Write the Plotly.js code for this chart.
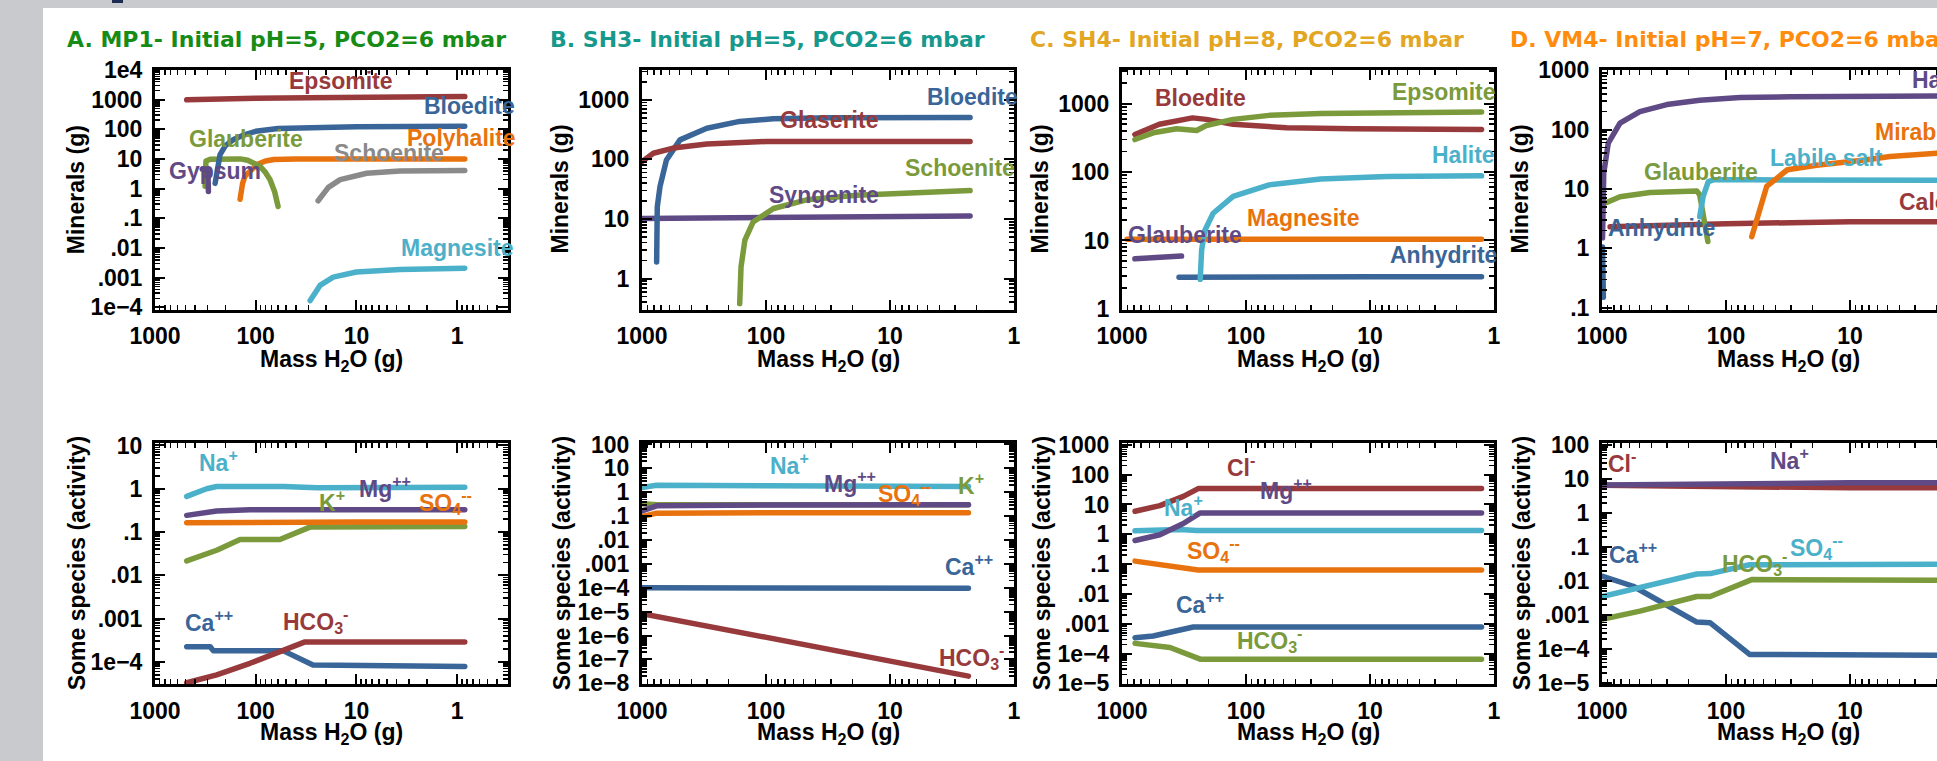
<!DOCTYPE html>
<html>
<head>
<meta charset="utf-8">
<script src="https://cdn.plot.ly/plotly-3.0.1.min.js"></script>
<style>
html,body{margin:0;padding:0;overflow:hidden;background:#fff;}
#chart{width:1990px;height:761px;}
.js-line{stroke-linecap:round;stroke-linejoin:round;}
</style>
</head>
<body>
<div id="chart"></div>
<script>
// ---------------- DATA ----------------
// Tick labels
const decadeVals = [1e-8,1e-7,1e-6,1e-5,1e-4,1e-3,1e-2,1e-1,1,10,100,1000,1e4];
const decadeText = ["1e\u22128","1e\u22127","1e\u22126","1e\u22125","1e\u22124",".001",".01",".1","1","10","100","1000","1e4"];
const massTickVals = [1,10,100,1000];
const massTickText = ["1","10","100","1000"];

const panelTitles = ["A. MP1- Initial pH=5, PCO2=6 mbar","B. SH3- Initial pH=5, PCO2=6 mbar","C. SH4- Initial pH=8, PCO2=6 mbar","D. VM4- Initial pH=7, PCO2=6 mbar"];
const xTitle = "Mass H<sub>2</sub>O (g)";
const yTitleTop = "Minerals (g)";
const yTitleBottom = "Some species (activity)";

// Panel A: MP1 minerals (x = mass H2O g, y = g)
const A_epsomite_m = [484,300,100,30,10,3,0.84];
const A_epsomite_v = [975,1040,1100,1150,1190,1220,1250];
const A_bloedite_m = [253,245,240,226,200,166,130,100,60,30,10,3,0.84];
const A_bloedite_v = [1.5,3,6,14,28,45,65,85,105,115,120,123,125];
const A_glauberite_m = [318,316,312,280,200,143,120,100,91,80,72,65,60];
const A_glauberite_v = [1.2,4,8.5,9.8,10,10,9,7,5.7,3.5,2.0,0.8,0.25];
const A_gypsum_m = [340,320,305,298,296,295];
const A_gypsum_v = [4.5,4.6,4.2,3,1.5,0.8];
const A_polyhalite_m = [143,140,135,128,110,97,80,66,40,10,0.84];
const A_polyhalite_v = [0.44,0.8,1.5,2.6,4.5,6.5,8.5,9.5,9.9,10,10];
const A_schoenite_m = [24,21,19,14.5,10,7.9,3.7,1.5,0.84];
const A_schoenite_v = [0.39,0.7,1.1,2.0,2.8,3.3,3.9,4.05,4.1];
const A_magnesite_m = [28.8,26,23,17,10,3.7,0.84];
const A_magnesite_v = [1.7e-4,3.2e-4,5.5e-4,1.05e-3,1.55e-3,1.9e-3,2.1e-3];

// Panel B: SH3 minerals
const B_bloedite_m = [762,753,716,635,494,300,163,88,30,10,2.26];
const B_bloedite_v = [1.9,16,35,98,213,333,435,480,500,505,505];
const B_glaserite_m = [1000,810,560,300,100,30,2.26];
const B_glaserite_v = [92,127,155,182,200,200,200];
const B_schoenite_m = [163,159,148,127,87,47,18.6,7.3,2.26];
const B_schoenite_v = [0.38,1.57,4.4,8.9,15,21,25,27.6,30];
const B_syngenite_m = [1000,300,100,10,2.26];
const B_syngenite_v = [10.2,10.4,10.7,11,11.2];

// Panel C: SH4 minerals
const C_epsomite_m = [787,560,363,250,209,127,65,25,1.26];
const C_epsomite_v = [299,375,430,405,480,590,675,720,755];
const C_bloedite_m = [787,500,270,209,127,47,13.8,1.26];
const C_bloedite_v = [355,500,620,590,500,445,430,418];
const C_halite_m = [234,228,215,184,127,65,25,7.3,1.26];
const C_halite_v = [2.7,7.2,14,25,44,65,79,86,88];
const C_magnesite_m = [910,100,10,1.26];
const C_magnesite_v = [10.4,10.4,10.4,10.4];
const C_glauberite_m = [787,331];
const C_glauberite_v = [5.4,5.9];
const C_anhydrite_m = [347,100,10,1.26];
const C_anhydrite_v = [2.9,2.95,2.95,2.95];

// Panel D: VM4 minerals
const D_halite_m = [990,985,968,890,716,495,300,163,77,30,10,3,1.26];
const D_halite_v = [1.5,3,18.4,59,128,200,263,310,345,355,362,368,370];
const D_anhydrite_m = [990,984,978,975];
const D_anhydrite_v = [1.05,0.5,0.25,0.15];
const D_glauberite_m = [917,716,410,172,163,150,140];
const D_glauberite_v = [5.9,7.4,8.7,9.2,8,3,1.3];
const D_labile_m = [163,153,139,126,60,10,1.26];
const D_labile_v = [3.4,7.4,13.3,14.2,14.2,14,14];
const D_mirabilite_m = [62,47,32,18.6,7.3,4.75,2.0,1.26];
const D_mirabilite_v = [1.57,11,21,25,31,35,40,42];
const D_calcite_m = [860,300,100,30,10,1.26];
const D_calcite_v = [2.3,2.5,2.6,2.7,2.8,2.8];

// Panel E: MP1 species activity
const E_na_m = [484,307,244,53,24.6,0.84];
const E_na_v = [0.665,1.0,1.13,1.13,1.05,1.08];
const E_mg_m = [484,244,114,0.84];
const E_mg_v = [0.243,0.305,0.327,0.327];
const E_so4_m = [484,100,10,0.84];
const E_so4_v = [0.165,0.17,0.17,0.17];
const E_k_m = [484,244,143,57.5,29,0.84];
const E_k_v = [0.0215,0.038,0.067,0.067,0.13,0.135];
const E_ca_m = [484,283,263,53,27,0.84];
const E_ca_v = [2.24e-4,2.24e-4,1.8e-4,1.8e-4,8.5e-5,7.8e-5];
const E_hco3_m = [484,244,114,53,32.4,0.84];
const E_hco3_v = [3.3e-5,5e-5,9.3e-5,1.88e-4,2.9e-4,2.9e-4];

// Panel F: SH3 species activity
const F_na_m = [1000,762,100,10,2.33];
const F_na_v = [1.57,1.95,1.85,1.78,1.74];
const F_k_m = [1000,762,2.33];
const F_k_v = [0.33,0.3,0.3];
const F_mg_m = [1000,762,100,2.33];
const F_mg_v = [0.166,0.27,0.29,0.30];
const F_so4_m = [1000,762,100,2.33];
const F_so4_v = [0.097,0.133,0.14,0.14];
const F_ca_m = [1000,100,2.33];
const F_ca_v = [1.0e-4,9.7e-5,9.5e-5];
const F_hco3_m = [1000,100,10,2.33];
const F_hco3_v = [8.3e-6,8.3e-7,8.5e-8,2e-8];

// Panel G: SH4 species activity
const G_cl_m = [785,495,320,243,1.26];
const G_cl_v = [5.9,9.1,18.6,34,34];
const G_mg_m = [785,495,320,234,1.26];
const G_mg_v = [0.62,0.96,2.3,5.2,5.2];
const G_na_m = [785,340,250,100,1.26];
const G_na_v = [1.3,1.45,1.35,1.35,1.35];
const G_so4_m = [785,410,243,1.26];
const G_so4_v = [0.126,0.09,0.063,0.063];
const G_ca_m = [785,560,266,1.26];
const G_ca_v = [3.4e-4,3.9e-4,7.8e-4,7.8e-4];
const G_hco3_m = [785,410,234,1.26];
const G_hco3_v = [2.2e-4,1.6e-4,6.5e-5,6.5e-5];

// Panel H: VM4 species activity
const H_cl_m = [1000,300,100,10,1.26];
const H_cl_v = [6.5,6.2,5.8,5.5,5.5];
const H_na_m = [1000,300,100,10,1.26];
const H_na_v = [6.7,7.1,7.5,7.7,7.8];
const H_ca_m = [1000,560,172,134,64.5,1.26];
const H_ca_v = [0.0138,0.007,6.2e-4,5.9e-4,6.9e-5,6.5e-5];
const H_so4_m = [1000,172,134,64.5,1.26];
const H_so4_v = [0.0035,0.016,0.0165,0.030,0.031];
const H_hco3_m = [1000,495,172,134,62,1.26];
const H_hco3_v = [7.4e-4,1.3e-3,3.5e-3,3.5e-3,0.011,0.0105];

// ---------------- STYLE ----------------
const W = 1990, H = 761;
const RED = '#983a3b', BLUE = '#3a6598', ORANGE = '#e8730e', GREEN = '#7a9a3b',
      GREY = '#8a8a8a', PURPLE = '#5f4a86', LBLUE = '#4bb0c9';
const titleColors = ['#168c16','#16998c','#e2a622','#ff8c0c'];
const colPx = [[155,508],[642,1014],[1122,1494],[1602,1974]];
const rowPx = [[69.5,309.5],[443.3,684]];
const LBL_FONT = 'Liberation Sans, Arial, sans-serif';

const panels = [
 {col:0,row:0,xr:[3,-0.505],yr:[-4.07,4.01],ytx:76.7,
  series:[[A_epsomite_m,A_epsomite_v,RED],[A_schoenite_m,A_schoenite_v,GREY],[A_magnesite_m,A_magnesite_v,LBLUE],
          [A_polyhalite_m,A_polyhalite_v,ORANGE],[A_glauberite_m,A_glauberite_v,GREEN],[A_bloedite_m,A_bloedite_v,BLUE],[A_gypsum_m,A_gypsum_v,PURPLE]],
  labels:[["Epsomite",RED,286.7,81],["Bloedite",BLUE,421.7,106],["Glauberite",GREEN,186.7,139],["Polyhalite",ORANGE,405,138],
          ["Schoenite",GREY,331.7,153],["Gypsum",PURPLE,166.7,170.7],["Magnesite",LBLUE,399,248]]},
 {col:1,row:0,xr:[3,0],yr:[-0.52,3.51],ytx:560,
  series:[[B_syngenite_m,B_syngenite_v,PURPLE],[B_schoenite_m,B_schoenite_v,GREEN],[B_bloedite_m,B_bloedite_v,BLUE],[B_glaserite_m,B_glaserite_v,RED]],
  labels:[["Bloedite",BLUE,925,97],["Glaserite",RED,778.3,120],["Schoenite",GREEN,903.3,168],["Syngenite",PURPLE,766.7,195]]},
 {col:2,row:0,xr:[3,0],yr:[-0.01,3.5],ytx:1040,
  series:[[C_anhydrite_m,C_anhydrite_v,BLUE],[C_glauberite_m,C_glauberite_v,PURPLE],[C_magnesite_m,C_magnesite_v,ORANGE],[C_halite_m,C_halite_v,LBLUE],
          [C_bloedite_m,C_bloedite_v,RED],[C_epsomite_m,C_epsomite_v,GREEN]],
  labels:[["Bloedite",RED,1153.3,98.3],["Epsomite",GREEN,1390,91.7],["Halite",LBLUE,1430,155],["Magnesite",ORANGE,1245,218],
          ["Glauberite",PURPLE,1126,235],["Anhydrite",BLUE,1388.3,255]]},
 {col:3,row:0,xr:[3,0],yr:[-1.03,3.01],ytx:1520,
  series:[[D_calcite_m,D_calcite_v,RED],[D_glauberite_m,D_glauberite_v,GREEN],[D_labile_m,D_labile_v,LBLUE],[D_mirabilite_m,D_mirabilite_v,ORANGE],
          [D_anhydrite_m,D_anhydrite_v,BLUE],[D_halite_m,D_halite_v,PURPLE]],
  labels:[["Halite",PURPLE,1910,80],["Mirabilite",ORANGE,1873,131.7],["Labile salt",LBLUE,1768,158],["Glauberite",GREEN,1642,172],
          ["Calcite",RED,1897,201.7],["Anhydrite",BLUE,1606,228]]},
 {col:0,row:1,xr:[3,-0.505],yr:[-4.51,1.05],ytx:76.7,
  series:[[E_k_m,E_k_v,GREEN],[E_so4_m,E_so4_v,ORANGE],[E_mg_m,E_mg_v,PURPLE],[E_na_m,E_na_v,LBLUE],[E_ca_m,E_ca_v,BLUE],[E_hco3_m,E_hco3_v,RED]],
  labels:[["Na<sup>+</sup>",LBLUE,196.7,461],["Mg<sup>++</sup>",PURPLE,356.7,487],["K<sup>+</sup>",GREEN,316.7,501],["SO<sub>4</sub><sup>--</sup>",ORANGE,416.7,502],
          ["Ca<sup>++</sup>",BLUE,182.7,621],["HCO<sub>3</sub><sup>-</sup>",RED,280.7,621]]},
 {col:1,row:1,xr:[3,0],yr:[-8.03,2.05],ytx:561.7,
  series:[[F_k_m,F_k_v,GREEN],[F_so4_m,F_so4_v,ORANGE],[F_mg_m,F_mg_v,PURPLE],[F_na_m,F_na_v,LBLUE],[F_ca_m,F_ca_v,BLUE],[F_hco3_m,F_hco3_v,RED]],
  labels:[["Na<sup>+</sup>",LBLUE,768.3,464],["Mg<sup>++</sup>",PURPLE,821.7,482],["SO<sub>4</sub><sup>--</sup>",ORANGE,876,493],["K<sup>+</sup>",GREEN,956,484],
          ["Ca<sup>++</sup>",BLUE,942.7,565],["HCO<sub>3</sub><sup>-</sup>",RED,936.7,657]]},
 {col:2,row:1,xr:[3,0],yr:[-5.02,3.05],ytx:1041.7,
  series:[[G_na_m,G_na_v,LBLUE],[G_mg_m,G_mg_v,PURPLE],[G_cl_m,G_cl_v,RED],[G_so4_m,G_so4_v,ORANGE],[G_ca_m,G_ca_v,BLUE],[G_hco3_m,G_hco3_v,GREEN]],
  labels:[["Cl<sup>-</sup>",RED,1225,466],["Mg<sup>++</sup>",PURPLE,1258.3,489],["Na<sup>+</sup>",LBLUE,1161.7,506],["SO<sub>4</sub><sup>--</sup>",ORANGE,1185,550],
          ["Ca<sup>++</sup>",BLUE,1174,603],["HCO<sub>3</sub><sup>-</sup>",GREEN,1235,640]]},
 {col:3,row:1,xr:[3,0],yr:[-5.03,2.05],ytx:1521.7,
  series:[[H_cl_m,H_cl_v,RED],[H_na_m,H_na_v,PURPLE],[H_ca_m,H_ca_v,BLUE],[H_hco3_m,H_hco3_v,GREEN],[H_so4_m,H_so4_v,LBLUE]],
  labels:[["Cl<sup>-</sup>",RED,1606,462],["Na<sup>+</sup>",PURPLE,1768.3,459],["Ca<sup>++</sup>",BLUE,1606.7,553],["HCO<sub>3</sub><sup>-</sup>",GREEN,1720,563],
          ["SO<sub>4</sub><sup>--</sup>",LBLUE,1788.3,547]]}
];

// minor tick positions (2..9 per decade)
const minorVals = [];
for (let k=-9;k<=4;k++) for (let d=2; d<=9; d++) minorVals.push(d*Math.pow(10,k));

const px2x = p => p/W;
const px2y = p => 1 - p/H;

const traces = [];
const layout = {
  width: W, height: H, margin:{l:0,r:0,t:0,b:0},
  paper_bgcolor:'#ffffff', plot_bgcolor:'#ffffff', showlegend:false,
  font:{family:LBL_FONT, color:'#000'},
  annotations:[], shapes:[
    {type:'rect', xref:'paper', yref:'paper', x0:0, x1:px2x(43), y0:0, y1:1, fillcolor:'#c9cacd', line:{width:0}, layer:'below'},
    {type:'rect', xref:'paper', yref:'paper', x0:0, x1:1, y0:px2y(8), y1:1, fillcolor:'#c9cacd', line:{width:0}, layer:'below'},
    {type:'rect', xref:'paper', yref:'paper', x0:px2x(112), x1:px2x(123), y0:px2y(3), y1:1, fillcolor:'#1d2b52', line:{width:0}, layer:'below'}
  ]
};

const tickFont = {family:LBL_FONT, size:23, color:'#000', weight:'bold'};
const axisCommon = {
  type:'log', autorange:false, showline:true, linecolor:'#000', linewidth:3, mirror:'allticks',
  ticks:'inside', ticklen:10, tickwidth:2, tickcolor:'#000', tickmode:'array',
  showgrid:false, zeroline:false, fixedrange:true, tickfont:tickFont,
  minor:{tickmode:'array', tickvals:minorVals, ticks:'inside', ticklen:5, tickwidth:1.6, tickcolor:'#000', showgrid:false}
};

panels.forEach((p,i) => {
  const n = i+1;
  const xa = 'xaxis'+(n===1?'':n), ya = 'yaxis'+(n===1?'':n);
  const xr = 'x'+(n===1?'':n), yr = 'y'+(n===1?'':n);
  const cp = colPx[p.col], rp = rowPx[p.row];
  layout[xa] = Object.assign({}, axisCommon, {
    domain:[px2x(cp[0]), px2x(cp[1])], range:p.xr, anchor:yr,
    tickvals:massTickVals, ticktext:massTickText, ticklabelstandoff:4
  });
  layout[ya] = Object.assign({}, axisCommon, {
    domain:[px2y(rp[1]), px2y(rp[0])], range:p.yr, anchor:xr,
    tickvals:decadeVals, ticktext:decadeText, ticklabelstandoff:5
  });
  p.series.forEach(s => {
    traces.push({type:'scatter', mode:'lines', x:s[0], y:s[1], xaxis:xr, yaxis:yr,
      line:{color:s[2], width:5.5}, hoverinfo:'skip', showlegend:false});
  });
  p.labels.forEach(l => {
    layout.annotations.push({xref:'paper', yref:'paper', x:px2x(l[2]), y:px2y(l[3]), xanchor:'left', yanchor:'middle',
      text:l[0], showarrow:false, font:{family:LBL_FONT, size:23, color:l[1], weight:'bold'}});
  });
  // x axis title
  const xtY = p.row===0 ? 360 : 733;
  layout.annotations.push({xref:'paper', yref:'paper', x:px2x((cp[0]+cp[1])/2), y:px2y(xtY), xanchor:'center', yanchor:'middle',
    text:xTitle, showarrow:false, font:{family:LBL_FONT, size:23, color:'#000', weight:'bold'}});
  // y axis title
  layout.annotations.push({xref:'paper', yref:'paper', x:px2x(p.ytx), y:px2y((rp[0]+rp[1])/2), xanchor:'center', yanchor:'middle',
    text:(p.row===0?yTitleTop:yTitleBottom), textangle:-90, showarrow:false, font:{family:LBL_FONT, size:23, color:'#000', weight:'bold'}});
  // panel title
  if (p.row===0) {
    layout.annotations.push({xref:'paper', yref:'paper', x:px2x([65,548.3,1028.3,1508.3][p.col]), y:px2y(40), xanchor:'left', yanchor:'middle',
      text:panelTitles[p.col], showarrow:false, font:{family:'DejaVu Sans, sans-serif', size:22, color:titleColors[p.col], weight:'bold'}});
  }
});

Plotly.newPlot('chart', traces, layout, {staticPlot:true, displayModeBar:false});
</script>
</body>
</html>
